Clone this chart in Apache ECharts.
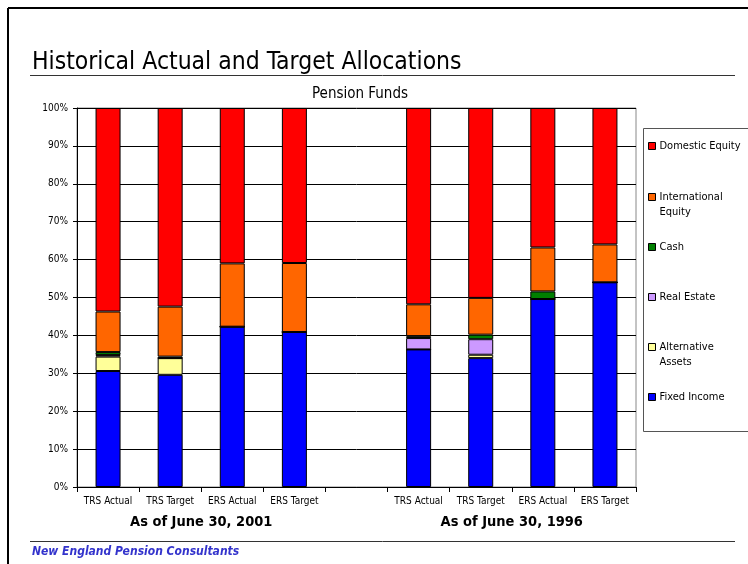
<!DOCTYPE html>
<html>
<head>
<meta charset="utf-8">
<title>Historical Actual and Target Allocations</title>
<script src="https://cdn.jsdelivr.net/npm/echarts@6/dist/echarts.min.js"></script>
<style>
  html, body { margin: 0; padding: 0; background: #fff; }
  #chart { width: 748px; height: 564px; }
</style>
</head>
<body>
<div id="chart"></div>
<script>
// categories (index 4 is the empty gap between the two dates)
const categories = ['TRS Actual', 'TRS Target', 'ERS Actual', 'ERS Target', '', 'TRS Actual', 'TRS Target', 'ERS Actual', 'ERS Target']
const groupLabels = ['As of June 30, 2001', 'As of June 30, 1996']
const yTicks = [0, 10, 20, 30, 40, 50, 60, 70, 80, 90, 100]

// allocation in percent, bottom of the stack first
const fixedIncome = [30.6, 29.6, 42.3, 40.9, null, 36.3, 34.0, 49.6, 54.0]
const alternativeAssets = [3.8, 4.4, 0, 0, null, 0, 0.9, 0, 0]
const realEstate = [0.4, 0, 0, 0, null, 3.0, 4.1, 0, 0]
const cash = [0.8, 0.4, 0, 0, null, 0.5, 1.2, 2.0, 0]
const internationalEquity = [10.7, 13.2, 16.7, 18.2, null, 8.4, 9.7, 11.6, 10.0]
const domesticEquity = [53.7, 52.4, 41.0, 40.9, null, 51.8, 50.1, 36.8, 36.0]

const legendNames = ['Domestic Equity', 'International Equity', 'Cash', 'Real Estate', 'Alternative Assets', 'Fixed Income']
// leading blank line keeps the marker level with the first line of text
const legendText = {
  'International Equity': '\nInternational\nEquity',
  'Alternative Assets': '\nAlternative\nAssets'
}

const chart = echarts.init(document.getElementById('chart'))

const uiFont = "'DejaVu Sans Condensed', 'Liberation Sans Narrow', sans-serif"

function barSeries(name, data, color) {
  return {
    type: 'bar',
    name: name,
    stack: 'total',
    data: data,
    barWidth: 25,
    emphasis: { disabled: true },
    itemStyle: { color: color, borderColor: '#000', borderWidth: 1 }
  }
}

// one legend per entry so the spacing follows the original box
const legendMarkerY = [146, 197, 247, 297, 347, 397]
const legends = legendNames.map((name, i) => {
  const twoLine = !!legendText[name]
  return {
    data: [name],
    left: 648,
    top: legendMarkerY[i] - (twoLine ? 22.5 : 7.5),
    padding: 0,
    orient: 'vertical',
    itemWidth: 7,
    itemHeight: 7,
    itemGap: 0,
    icon: 'rect',
    selectedMode: false,
    formatter: (n) => legendText[n] || n,
    itemStyle: { borderColor: '#000', borderWidth: 1 },
    textStyle: {
      fontFamily: uiFont,
      fontSize: 11,
      color: '#000',
      lineHeight: 15,
      padding: [0, 0, 0, -1]
    }
  }
})

const option = {
  animation: false,
  backgroundColor: '#fff',
  title: [
    {
      text: 'Historical Actual and Target Allocations',
      left: 32,
      top: 50,
      padding: 0,
      textStyle: { fontFamily: uiFont, fontSize: 24.5, fontWeight: 'normal', color: '#000' }
    },
    {
      text: 'Pension Funds',
      left: 360,
      top: 87,
      padding: 0,
      textAlign: 'center',
      textStyle: { fontFamily: uiFont, fontSize: 15, fontWeight: 'normal', color: '#000' }
    },
    {
      text: 'New England Pension Consultants',
      left: 32,
      top: 546,
      padding: 0,
      textStyle: { fontFamily: uiFont, fontSize: 12, fontWeight: 'bold', fontStyle: 'italic', color: '#3333CC' }
    }
  ],
  legend: legends,
  grid: {
    left: 77,
    right: 112,
    top: 108,
    bottom: 77,
    show: true,
    borderColor: '#888',
    borderWidth: 1
  },
  xAxis: [
    {
      type: 'category',
      data: categories,
      axisLine: { lineStyle: { color: '#000' } },
      axisTick: { show: true, length: 5, lineStyle: { color: '#000' } },
      axisLabel: { margin: 9, fontFamily: uiFont, fontSize: 10, color: '#000', interval: 0 }
    },
    {
      // date group captions, placed at the centre of each group of four bars
      type: 'value',
      min: 0,
      max: categories.length,
      interval: 1,
      position: 'bottom',
      offset: 21,
      axisLine: { show: false },
      axisTick: { show: false },
      splitLine: { show: false },
      axisLabel: {
        margin: 7,
        fontFamily: uiFont,
        fontSize: 14.5,
        fontWeight: 'bold',
        color: '#000',
        formatter: (v) => (v === 2 ? groupLabels[0] : v === 7 ? groupLabels[1] : '')
      }
    }
  ],
  yAxis: {
    type: 'value',
    min: yTicks[0],
    max: yTicks[yTicks.length - 1],
    interval: 10,
    axisLine: { show: true, lineStyle: { color: '#000' } },
    axisTick: { show: true, length: 4, lineStyle: { color: '#000' } },
    splitLine: { show: true, lineStyle: { color: '#000', width: 1 } },
    axisLabel: { margin: 9, fontFamily: uiFont, fontSize: 10, color: '#000', formatter: '{value}%' }
  },
  graphic: [
    // page frame
    { type: 'line', shape: { x1: 8, y1: 8, x2: 748, y2: 8 }, style: { stroke: '#000', lineWidth: 2 } },
    { type: 'line', shape: { x1: 8, y1: 8, x2: 8, y2: 564 }, style: { stroke: '#000', lineWidth: 2 } },
    // rules under the title and above the footer
    { type: 'line', shape: { x1: 30, y1: 75.5, x2: 735, y2: 75.5 }, style: { stroke: '#333', lineWidth: 1 } },
    { type: 'line', shape: { x1: 30, y1: 541.5, x2: 735, y2: 541.5 }, style: { stroke: '#333', lineWidth: 1 } },
    // legend box
    { type: 'rect', shape: { x: 643.5, y: 128.5, width: 120, height: 303 }, style: { fill: 'none', stroke: '#555', lineWidth: 1 } }
  ],
  series: [
    barSeries('Fixed Income', fixedIncome, '#0000FF'),
    barSeries('Alternative Assets', alternativeAssets, '#FFFF99'),
    barSeries('Real Estate', realEstate, '#CC99FF'),
    barSeries('Cash', cash, '#008000'),
    barSeries('International Equity', internationalEquity, '#FF6600'),
    barSeries('Domestic Equity', domesticEquity, '#FF0000')
  ]
}

chart.setOption(option)
</script>
</body>
</html>
